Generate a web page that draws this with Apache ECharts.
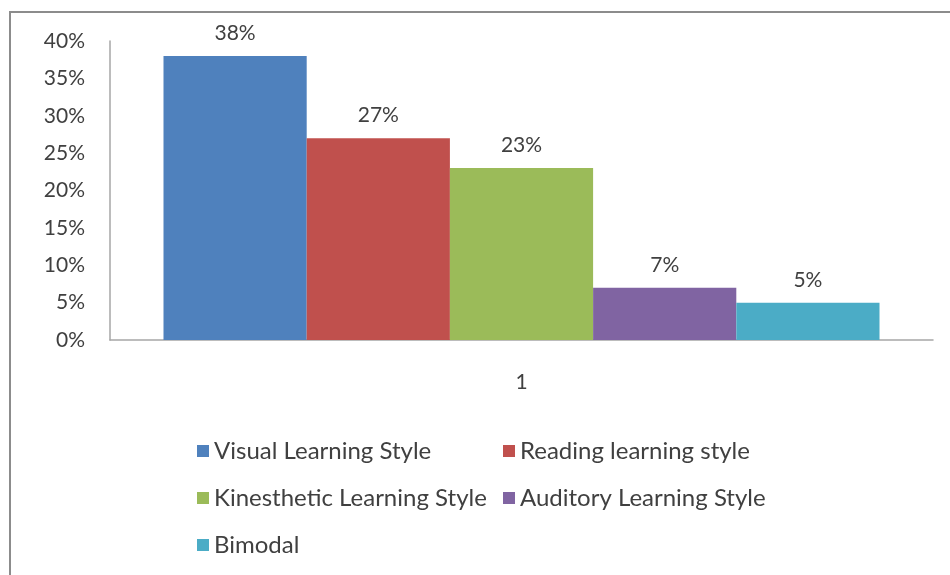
<!DOCTYPE html>
<html>
<head>
<meta charset="utf-8">
<title>Learning styles</title>
<script src="https://cdn.jsdelivr.net/npm/echarts@6/dist/echarts.min.js"></script>
<style>
  html, body { margin: 0; padding: 0; background: #fff; }
  #chartmain { width: 950px; height: 575px; }
</style>
</head>
<body>
<div id="chartmain"></div>
<script>
// data
var categories = ['1'];
var seriesNames = ['Visual Learning Style', 'Reading learning style', 'Kinesthetic Learning Style', 'Auditory Learning Style', 'Bimodal'];
var seriesValues = [38, 27, 23, 7, 5];
var seriesColors = ['#4F81BD', '#C0504D', '#9BBB59', '#8064A2', '#4BACC6'];
var yTicks = [0, 5, 10, 15, 20, 25, 30, 35, 40];

var font = 'Lato, "Open Sans", sans-serif';

var myChart = echarts.init(document.getElementById('chartmain'));

var series = seriesNames.map(function (name, i) {
    return {
        name: name,
        type: 'bar',
        data: [seriesValues[i]],
        barGap: '0%',
        barCategoryGap: '13%',
        itemStyle: { color: seriesColors[i] },
        label: {
            show: true,
            position: 'top',
            distance: 12,
            formatter: '{c}%',
            color: '#404040',
            fontSize: 21,
            fontFamily: font
        }
    };
});

var legendText = { color: '#404040', fontSize: 24, lineHeight: 24, fontFamily: font };

option = {
    backgroundColor: '#fff',
    animation: false,
    graphic: [{
        type: 'rect',
        shape: { x: 10, y: 12, width: 980, height: 620 },
        style: { fill: 'none', stroke: '#8c8c8c', lineWidth: 2 }
    }],
    grid: { left: 110, right: 17, top: 41, bottom: 235 },
    legend: [{
        orient: 'vertical',
        left: 192,
        top: 434,
        itemGap: 23,
        itemWidth: 12,
        itemHeight: 12,
        icon: 'rect',
        textStyle: legendText,
        data: [seriesNames[0], seriesNames[2], seriesNames[4]]
    }, {
        orient: 'vertical',
        left: 498,
        top: 434,
        itemGap: 23,
        itemWidth: 12,
        itemHeight: 12,
        icon: 'rect',
        textStyle: legendText,
        data: [seriesNames[1], seriesNames[3]]
    }],
    xAxis: {
        type: 'category',
        data: categories,
        axisLine: { lineStyle: { color: '#a6a6a6', width: 1.5 } },
        axisTick: { show: false },
        axisLabel: { color: '#404040', fontSize: 21, fontFamily: font, margin: 32 }
    },
    yAxis: {
        type: 'value',
        min: yTicks[0],
        max: yTicks[yTicks.length - 1],
        interval: 5,
        splitLine: { show: false },
        axisLine: { show: true, lineStyle: { color: '#a6a6a6', width: 1.5 } },
        axisTick: { show: false },
        axisLabel: {
            color: '#404040',
            fontSize: 21,
            fontFamily: font,
            margin: 25,
            formatter: '{value}%'
        }
    },
    series: series
};

myChart.setOption(option);
</script>
</body>
</html>
